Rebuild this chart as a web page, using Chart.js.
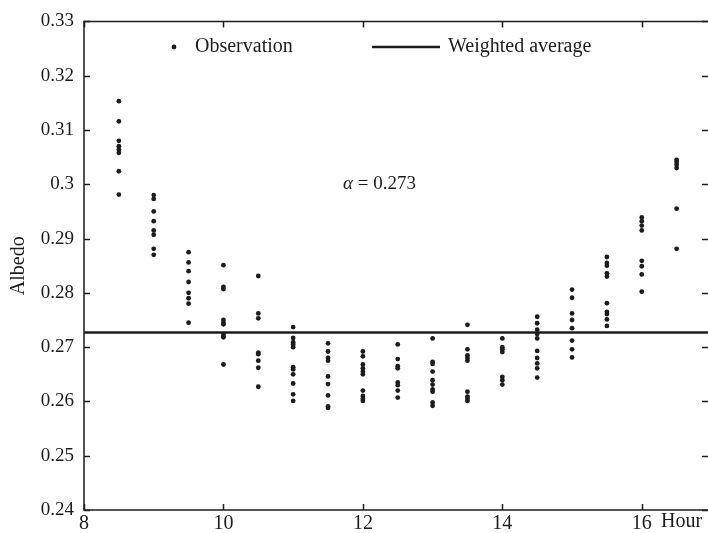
<!DOCTYPE html>
<html>
<head>
    <title>Albedo by hour</title>
    <script src="https://cdn.jsdelivr.net/npm/chart.js"></script>
    <style>
        body { margin: 0; background: #fff; }
        #wrap { width: 708px; height: 533px; }
    </style>
</head>
<body>
    <div id="wrap">
        <canvas id="albedoChart"></canvas>
    </div>

    <script>
        // observation times (hour of day)
        var hours = [8.5, 9, 9.5, 10, 10.5, 11, 11.5, 12, 12.5, 13, 13.5, 14, 14.5, 15, 15.5, 16, 16.5];

        // albedo readings at each hour, same order as hours
        var albedoByHour = [
            [0.3153, 0.3116, 0.3080, 0.3070, 0.3064, 0.3058, 0.3024, 0.2981],
            [0.2980, 0.2973, 0.2950, 0.2932, 0.2915, 0.2907, 0.2881, 0.2870],
            [0.2875, 0.2856, 0.2840, 0.2820, 0.2800, 0.2790, 0.2780, 0.2745],
            [0.2851, 0.2811, 0.2807, 0.2750, 0.2745, 0.2742, 0.2724, 0.2720, 0.2718, 0.2668],
            [0.2831, 0.2762, 0.2753, 0.2690, 0.2687, 0.2675, 0.2662, 0.2627],
            [0.2737, 0.2717, 0.2709, 0.2705, 0.2700, 0.2663, 0.2659, 0.2650, 0.2633, 0.2613, 0.2601],
            [0.2707, 0.2692, 0.2680, 0.2675, 0.2646, 0.2632, 0.2611, 0.2591, 0.2588],
            [0.2692, 0.2683, 0.2668, 0.2661, 0.2655, 0.2650, 0.2620, 0.2610, 0.2605, 0.2601],
            [0.2705, 0.2678, 0.2665, 0.2661, 0.2635, 0.2630, 0.2620, 0.2607],
            [0.2716, 0.2673, 0.2669, 0.2655, 0.2639, 0.2631, 0.2622, 0.2618, 0.2598, 0.2592],
            [0.2741, 0.2696, 0.2685, 0.2680, 0.2675, 0.2618, 0.2609, 0.2605, 0.2601],
            [0.2716, 0.2700, 0.2696, 0.2691, 0.2645, 0.2639, 0.2631],
            [0.2756, 0.2744, 0.2732, 0.2724, 0.2716, 0.2693, 0.2680, 0.2670, 0.2661, 0.2644],
            [0.2806, 0.2791, 0.2762, 0.2750, 0.2735, 0.2712, 0.2696, 0.2681],
            [0.2866, 0.2855, 0.2850, 0.2836, 0.2830, 0.2781, 0.2765, 0.2761, 0.2751, 0.2739],
            [0.2939, 0.2932, 0.2924, 0.2915, 0.2859, 0.2849, 0.2834, 0.2802],
            [0.3045, 0.3041, 0.3036, 0.3030, 0.2955, 0.2881]
        ];

        var weightedAvg = 0.2727;
        var avgSpan = [8, 16.95];

        var xTicks = [8, 10, 12, 14, 16];
        var yTicks = [0.24, 0.25, 0.26, 0.27, 0.28, 0.29, 0.3, 0.31, 0.32, 0.33];

        var serif = '"Liberation Serif", "DejaVu Serif", serif';
        var ink = '#1c1c1c';

        var points = [];
        hours.forEach(function (h, i) {
            albedoByHour[i].forEach(function (v) {
                points.push({ x: h, y: v });
            });
        });

        // frame (left, top, bottom), inward ticks on all four sides, legend and labels
        var decor = {
            id: 'decor',
            afterDraw: function (chart) {
                var ctx = chart.ctx;
                var a = chart.chartArea;
                var xs = chart.scales.x, ys = chart.scales.y;
                var tl = 6;
                ctx.save();
                ctx.strokeStyle = ink;
                ctx.lineWidth = 1.5;
                ctx.beginPath();
                ctx.moveTo(a.right, a.top);
                ctx.lineTo(a.left, a.top);
                ctx.lineTo(a.left, a.bottom);
                ctx.lineTo(a.right, a.bottom);
                ctx.stroke();

                ctx.beginPath();
                xTicks.forEach(function (v) {
                    var px = Math.round(xs.getPixelForValue(v)) + 0.5;
                    ctx.moveTo(px, a.bottom); ctx.lineTo(px, a.bottom - tl);
                    ctx.moveTo(px, a.top); ctx.lineTo(px, a.top + tl);
                });
                yTicks.forEach(function (v) {
                    var py = Math.round(ys.getPixelForValue(v)) + 0.5;
                    ctx.moveTo(a.left, py); ctx.lineTo(a.left + tl, py);
                    ctx.moveTo(a.right, py); ctx.lineTo(a.right - tl, py);
                });
                ctx.stroke();

                // legend
                ctx.fillStyle = ink;
                ctx.font = '20px ' + serif;
                ctx.textBaseline = 'middle';
                ctx.textAlign = 'left';
                ctx.beginPath();
                ctx.arc(174, 47, 2.4, 0, Math.PI * 2);
                ctx.fill();
                ctx.fillText('Observation', 195, 47);
                ctx.lineWidth = 2.5;
                ctx.beginPath();
                ctx.moveTo(372, 47); ctx.lineTo(440, 47);
                ctx.stroke();
                ctx.fillText('Weighted average', 448, 47);

                // annotation
                ctx.font = 'italic 19px ' + serif;
                ctx.fillText('\u03B1', 343, 184);
                var w = ctx.measureText('\u03B1').width;
                ctx.font = '19px ' + serif;
                ctx.fillText(' = 0.273', 343 + w, 184);

                // unit after last x tick label
                ctx.font = '20px ' + serif;
                ctx.textBaseline = 'top';
                ctx.fillText('Hour', 661, a.bottom + 2);
                ctx.restore();
            }
        };

        var ctx = document.getElementById('albedoChart').getContext('2d');
        var myChart = new Chart(ctx, {
            type: 'scatter',
            data: {
                datasets: [{
                    label: 'Observation',
                    data: points,
                    pointRadius: 2.4,
                    pointBackgroundColor: ink,
                    pointBorderWidth: 0,
                    showLine: false
                }, {
                    label: 'Weighted average',
                    data: avgSpan.map(function (h) { return { x: h, y: weightedAvg }; }),
                    showLine: true,
                    borderColor: ink,
                    borderWidth: 2.5,
                    pointRadius: 0
                }]
            },
            options: {
                responsive: true,
                maintainAspectRatio: false,
                animation: false,
                layout: {
                    autoPadding: false, // otherwise point overflow eats 5px on the right
                    padding: { top: 15, right: 0, bottom: 0, left: 0 }
                },
                plugins: {
                    legend: { display: false },
                    tooltip: { enabled: false }
                },
                scales: {
                    x: {
                        type: 'linear',
                        min: 8,
                        max: 16.95,
                        grid: { display: false, drawTicks: false },
                        border: { display: false },
                        afterBuildTicks: function (s) {
                            s.ticks = xTicks.map(function (v) { return { value: v }; });
                        },
                        afterFit: function (s) {
                            s.height = 23;
                            s.paddingLeft = 0;
                            s.paddingRight = 0;
                        },
                        ticks: {
                            padding: 2,
                            color: ink,
                            font: { family: serif, size: 20 },
                            maxRotation: 0,
                            callback: function (v) { return String(v); }
                        }
                    },
                    y: {
                        min: 0.24,
                        max: 0.33,
                        grid: { display: false, drawTicks: false },
                        border: { display: false },
                        afterBuildTicks: function (s) {
                            s.ticks = yTicks.map(function (v) { return { value: v }; });
                        },
                        afterFit: function (s) { s.width = 84; },
                        title: {
                            display: true,
                            text: 'Albedo',
                            color: ink,
                            font: { family: serif, size: 20 },
                            padding: { top: 7, bottom: 0 }
                        },
                        ticks: {
                            padding: 10,
                            color: ink,
                            font: { family: serif, size: 19 },
                            callback: function (v) { return String(+v.toFixed(2)); }
                        }
                    }
                }
            },
            plugins: [decor]
        });
    </script>
</body>
</html>
